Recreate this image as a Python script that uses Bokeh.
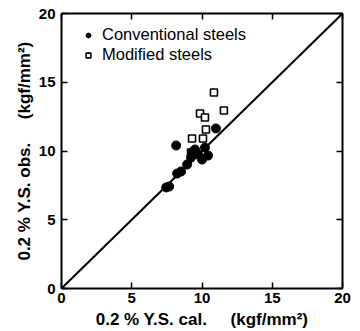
from bokeh.plotting import figure
from bokeh.models import Range1d, FixedTicker, LinearAxis, Legend, LegendItem, ColumnDataSource
from bokeh.embed import file_html
from bokeh.resources import INLINE

# Data (kgf/mm^2)
conv_cal = [10.99, 8.16, 9.50, 10.21, 9.29, 9.72, 10.00, 10.43, 9.22, 8.94, 8.51, 8.23, 7.66, 7.45]
conv_obs = [11.64, 10.40, 10.11, 10.25, 9.89, 9.75, 9.38, 9.67, 9.53, 9.02, 8.51, 8.36, 7.42, 7.35]
mod_cal = [10.85, 11.56, 9.86, 10.21, 10.28, 9.29, 10.07, 9.22]
mod_obs = [14.25, 12.95, 12.73, 12.44, 11.56, 10.91, 10.91, 9.89]
diag = [0, 20]
ticks = [0, 5, 10, 15, 20]
legend_labels = ["Conventional steels", "Modified steels"]
NB = "\u00a0"
x_title = "0.2 % Y.S. cal." + NB * 5 + "(kgf/mm\u00b2)"
y_title = "0.2 % Y.S. obs." + NB * 5 + "(kgf/mm\u00b2)"

FONT = "Liberation Sans"

p = figure(frame_width=281, frame_height=275, output_backend="svg", toolbar_location=None,
           x_range=Range1d(0, 20), y_range=Range1d(0, 20),
           min_border_left=61, min_border_right=10, min_border_top=13, min_border_bottom=39)
p.grid.visible = False
p.outline_line_color = None
p.background_fill_color = "white"
p.border_fill_color = "white"

p.line(diag, diag, line_color="black", line_width=2)

src_c = ColumnDataSource(dict(x=conv_cal, y=conv_obs))
src_m = ColumnDataSource(dict(x=mod_cal, y=mod_obs))
r_m = p.scatter("x", "y", source=src_m, marker="square", size=7, fill_color="white",
                line_color="black", line_width=1.6)
r_c = p.scatter("x", "y", source=src_c, marker="circle", size=9, fill_color="black",
                line_color="black")

for ax in p.xaxis + p.yaxis:
    ax.ticker = FixedTicker(ticks=ticks)
    ax.major_tick_in = 6
    ax.major_tick_out = 0
    ax.minor_tick_line_color = None
    ax.axis_line_width = 2
    ax.major_tick_line_width = 1.5
    ax.major_label_text_font = FONT
    ax.major_label_text_font_style = "bold"
    ax.major_label_text_font_size = "15px"
    ax.major_label_text_color = "black"
    ax.axis_label_text_font = FONT
    ax.axis_label_text_font_style = "bold"
    ax.axis_label_text_font_size = "17px"
    ax.axis_label_text_color = "black"

p.xaxis.axis_label = x_title
p.yaxis.axis_label = y_title
p.xaxis.major_label_standoff = 4
p.yaxis.major_label_standoff = 6
p.xaxis.axis_label_standoff = 4
p.yaxis.axis_label_standoff = 2

for loc in ("right", "above"):
    a = LinearAxis(ticker=FixedTicker(ticks=ticks), major_label_text_font_size="0px",
                   major_tick_in=6, major_tick_out=0, minor_tick_line_color=None,
                   axis_line_width=2, major_tick_line_width=1.5, major_label_standoff=0)
    a.major_label_text_color = None
    p.add_layout(a, loc)

legend = Legend(items=[LegendItem(label=legend_labels[0], renderers=[r_c]),
                       LegendItem(label=legend_labels[1], renderers=[r_m])],
                location=(21, 224), border_line_color=None, background_fill_alpha=0,
                padding=4, spacing=1, glyph_width=12, glyph_height=14, label_height=14,
                label_standoff=8, label_text_font=FONT, label_text_font_size="16.5px",
                label_text_color="black", margin=0)
p.add_layout(legend)

open("out.html", "w").write(file_html(p, INLINE))
